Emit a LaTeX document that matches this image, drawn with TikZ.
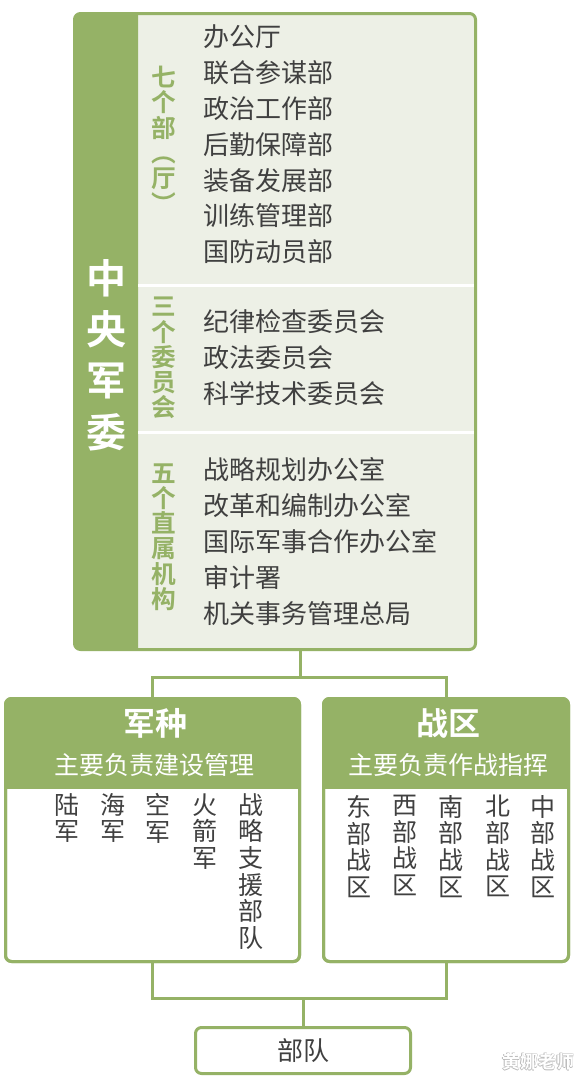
\documentclass[tikz,border=0pt]{standalone}
\usepackage{fontspec}
\usepackage{graphicx}
\setmainfont{Noto Sans CJK SC}[BoldFont={Noto Sans CJK SC Bold}]
\definecolor{gr}{HTML}{95B266}
\definecolor{lt}{HTML}{EDF0E6}
\definecolor{tx}{HTML}{404040}
\newcommand{\vparen}[1]{\rotatebox[origin=c]{-90}{#1}}
\tikzset{
 box/.style={draw=gr, line width=2.25pt, rounded corners=4.5pt, inner sep=0pt, outer sep=0pt},
 item/.style={anchor=west, inner sep=0pt, text=tx, font=\fontsize{19.5}{19.5}\selectfont},
 vlab/.style={align=center, inner sep=0pt, text=gr, font=\bfseries\fontsize{18.5}{18.9}\selectfont},
 col/.style={anchor=north, align=center, inner sep=0pt, text=tx, font=\fontsize{18.75}{20}\selectfont},
 conn/.style={draw=gr, line width=2.25pt},
 htitle/.style={inner sep=0pt, text=white, font=\bfseries\fontsize{24}{24}\selectfont},
 hsub/.style={inner sep=0pt, text=white, font=\fontsize{18.75}{18.75}\selectfont},
}
\begin{document}
\begin{tikzpicture}[x=0.75pt,y=-0.75pt]
\useasboundingbox[fill=white] (0,0) rectangle (577,1083);
% central military commission box
\node[box, fill=lt, minimum width=300.75pt, minimum height=477pt] (cmc) at (275,331.5) {};
\begin{scope}
\clip (60,0) rectangle (138,660);
\fill[gr, rounded corners=4.5pt] (cmc.north west) rectangle (cmc.south east);
\end{scope}
\draw[white, line width=2.25pt] (138,285) -- (474,285);
\draw[white, line width=2.25pt] (138,432) -- (474,432);
\node[align=center, inner sep=0pt, text=white, font=\bfseries\fontsize{30}{38.6}\selectfont] (title) at (106,355) {中\\央\\军\\委};
\node[vlab] (g1) at (164,141) {七\\个\\部\\\vparen{（}\\厅\\\vparen{）}};
\node[vlab] (g2) at (164,358) {三\\个\\委\\员\\会};
\node[vlab] (g3) at (164,537) {五\\个\\直\\属\\机\\构};
\foreach \t [count=\i] in {办公厅,联合参谋部,政治工作部,后勤保障部,装备发展部,训练管理部,国防动员部}
  \node[item] (a\i) at (203,{37+35.8*(\i-1)}) {\t};
\foreach \t [count=\i] in {纪律检查委员会,政法委员会,科学技术委员会}
  \node[item] (b\i) at (203,{322+36*(\i-1)}) {\t};
\foreach \t [count=\i] in {战略规划办公室,改革和编制办公室,国际军事合作办公室,审计署,机关事务管理总局}
  \node[item] (c\i) at (203,{470+35.8*(\i-1)}) {\t};
% lower boxes
\node[box, fill=white, minimum width=220.5pt, minimum height=197.25pt] (lb) at (152.5,830) {};
\node[box, fill=white, minimum width=183.75pt, minimum height=197.25pt] (rb) at (446,830) {};
\begin{scope}
\clip (0,690) rectangle (577,788);
\fill[gr, rounded corners=4.5pt] (lb.north west) rectangle (lb.south east);
\fill[gr, rounded corners=4.5pt] (rb.north west) rectangle (rb.south east);
\end{scope}
\draw[box, fill=none] (lb.north west) rectangle (lb.south east);
\draw[box, fill=none] (rb.north west) rectangle (rb.south east);
\node[htitle] (lt1) at (155,723) {军种};
\node[hsub] (ls1) at (155,765) {主要负责建设管理};
\node[htitle] (rt1) at (448,723) {战区};
\node[hsub] (rs1) at (448,765) {主要负责作战指挥};
\node[col] (l1) at (67,793) {陆\\军};
\node[col] (l2) at (113,793) {海\\军};
\node[col] (l3) at (158,793) {空\\军};
\node[col] (l4) at (205,793) {火\\箭\\军};
\node[col] (l5) at (251,793) {战\\略\\支\\援\\部\\队};
\node[col] (r1) at (359,795) {东\\部\\战\\区};
\node[col] (r2) at (405,795) {西\\部\\战\\区};
\node[col] (r3) at (451,795) {南\\部\\战\\区};
\node[col] (r4) at (498,795) {北\\部\\战\\区};
\node[col] (r5) at (543,795) {中\\部\\战\\区};
% troops box
\node[box, fill=white, minimum width=161.25pt, minimum height=34.5pt, text=tx, font=\fontsize{19.5}{19.5}\selectfont] (bd) at (303,1050.5) {部队};
% connectors
\coordinate (j1) at (300,677);
\draw[conn] (cmc.south -| j1) -- (j1);
\draw[conn] (lb.north) |- (j1) -| (rb.north);
\coordinate (j2) at (303,998);
\draw[conn] (lb.south) |- (j2) -| (rb.south);
\draw[conn] (j2) -- (bd.north);
% watermark
\foreach \dx/\dy [count=\k] in {-0.6/0,0.6/0,0/-0.6,0/0.6}
  \node[inner sep=0pt, text=gray!55, font=\bfseries\fontsize{13.5}{13.5}\selectfont] (wm\k) at ({538+\dx},{1062+\dy}) {黄娜老师};
\node[inner sep=0pt, text=white, font=\bfseries\fontsize{13.5}{13.5}\selectfont] (wm) at (538,1062) {黄娜老师};
\end{tikzpicture}
\end{document}
